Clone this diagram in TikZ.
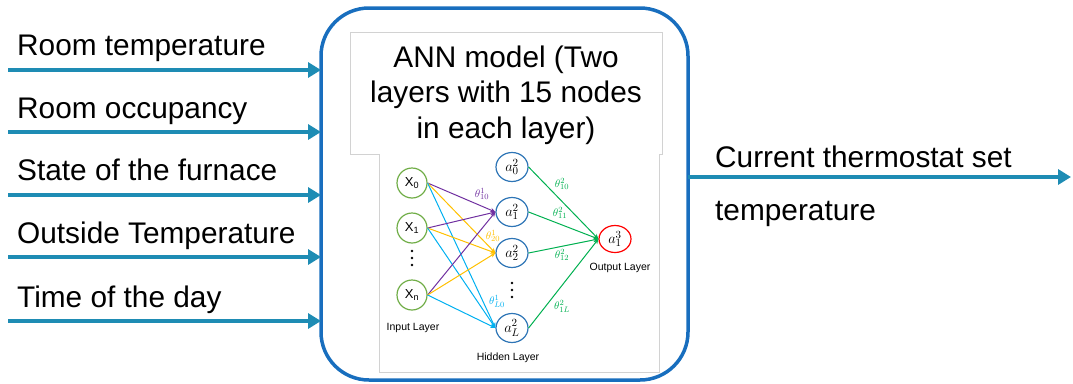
\documentclass[tikz,border=0pt]{standalone}
\usepackage{fontspec}
\setmainfont{Liberation Sans}
\usetikzlibrary{arrows.meta,shapes.geometric}
\definecolor{boxblue}{RGB}{24,110,190}
\definecolor{arrowblue}{RGB}{30,140,180}
\definecolor{nnpurple}{RGB}{112,48,160}
\definecolor{nnyellow}{RGB}{255,192,0}
\definecolor{nncyan}{RGB}{0,176,240}
\definecolor{nngreen}{RGB}{0,176,80}
\definecolor{ingreen}{RGB}{112,173,71}
\definecolor{hidblue}{RGB}{46,117,182}
\definecolor{outred}{RGB}{255,0,0}
\tikzset{
  bigfont/.style={font=\fontsize{29.8}{35.5}\selectfont},
  lbl/.style={bigfont, anchor=base west, inner sep=0pt},
  ttl/.style={bigfont, anchor=base, inner sep=0pt},
  inarrow/.style={draw=arrowblue, line width=4pt, -{Triangle[length=13pt,width=15pt]}},
  innode/.style={ellipse, draw=ingreen, line width=1.2pt, minimum width=30pt, minimum height=30pt, inner sep=0pt, font=\fontsize{13}{14}\selectfont},
  hidnode/.style={ellipse, draw=hidblue, line width=1.2pt, minimum width=32pt, minimum height=29pt, inner sep=0pt, font=\fontsize{15}{16}\selectfont},
  outnode/.style={ellipse, draw=outred, line width=1.2pt, minimum width=32pt, minimum height=27pt, inner sep=0pt, font=\fontsize{15}{16}\selectfont},
  layerlbl/.style={font=\fontsize{10.5}{12}\selectfont, inner sep=0pt},
  wlbl/.style={font=\fontsize{11}{12}\selectfont, inner sep=0pt},
  nnedge/.style={line width=1pt, -{Stealth[length=5pt,width=4.5pt]}},
  dotmark/.style={fill=black},
}
\begin{document}
\begin{tikzpicture}[x=1pt,y=-1pt]
\useasboundingbox (0,0) rectangle (1073,383);
% inner boxes
\draw[gray!35, line width=0.8pt] (379,372) -- (379,154) -- (350,154) -- (350,32) -- (662,32) -- (662,154) -- (659,154) -- (659,372) -- cycle;
% title
\node[ttl] (t1) at (506,67) {ANN model (Two};
\node[ttl] (t2) at (506,102.5) {layers with 15 nodes};
\node[ttl] (t3) at (506,138) {in each layer)};
% model box
\node[draw=boxblue, line width=3.5pt, rounded corners=48pt, minimum width=367pt, minimum height=372pt, outer sep=0pt, inner sep=0pt] (model) at (504.5,194) {};
% input arrows
\coordinate (s1) at (8,70);
\coordinate (s2) at (8,132);
\coordinate (s3) at (8,195);
\coordinate (s4) at (8,257);
\coordinate (s5) at (8,321);
\foreach \i in {1,...,5}{\draw[inarrow] (s\i) -- (s\i -| model.west);}
\node[lbl] (l1) at (17,55) {Room temperature};
\node[lbl] (l2) at (17,118) {Room occupancy};
\node[lbl] (l3) at (17,180.5) {State of the furnace};
\node[lbl] (l4) at (17,243) {Outside Temperature};
\node[lbl] (l5) at (17,307) {Time of the day};
% output arrow
\coordinate (oe) at (1071,177);
\draw[inarrow] (oe -| model.east) -- (oe);
\node[lbl] (o1) at (715,167) {Current thermostat set};
\node[lbl] (o2) at (715,220) {temperature};
% NN
\node[innode] (x0) at (412,183) {X\textsubscript{0}};
\node[innode] (x1) at (412,228) {X\textsubscript{1}};
\node[innode] (xn) at (412,295) {X\textsubscript{n}};
\foreach \yy in {251,258,265}{\fill[dotmark] (412,\yy) circle (1.4pt);}
\node[hidnode] (a0) at (512,167) {$a_0^2$};
\node[hidnode] (a1) at (512,212) {$a_1^2$};
\node[hidnode] (a2) at (512,253) {$a_2^2$};
\node[hidnode] (aL) at (512,328) {$a_L^2$};
\foreach \yy in {283,290,297}{\fill[dotmark] (512,\yy) circle (1.4pt);}
\node[outnode] (y) at (615,239) {$a_1^3$};
\node[layerlbl] (il) at (413,328) {Input Layer};
\node[layerlbl] (hl) at (508,358) {Hidden Layer};
\node[layerlbl] (ol) at (620,268) {Output Layer};
\foreach \s in {x0,x1,xn}{
  \draw[nnedge, draw=nnpurple] (\s.east) -- (a1.west);
  \draw[nnedge, draw=nnyellow] (\s.east) -- (a2.west);
  \draw[nnedge, draw=nncyan] (\s.east) -- (aL.west);
}
\foreach \h in {a0,a1,a2,aL}{
  \draw[nnedge, draw=nngreen] (\h.east) -- (y.west);
}
\node[wlbl, text=nnpurple] (w1) at (482,194) {$\theta_{10}^1$};
\node[wlbl, text=nnyellow] (w2) at (493,236) {$\theta_{20}^1$};
\node[wlbl, text=nncyan] (w3) at (497,301) {$\theta_{L0}^1$};
\node[wlbl, text=nngreen] (g1) at (562,184) {$\theta_{10}^2$};
\node[wlbl, text=nngreen] (g2) at (560,213) {$\theta_{11}^2$};
\node[wlbl, text=nngreen] (g3) at (562,255) {$\theta_{12}^2$};
\node[wlbl, text=nngreen] (g4) at (562,306) {$\theta_{1L}^2$};
\end{tikzpicture}
\end{document}
